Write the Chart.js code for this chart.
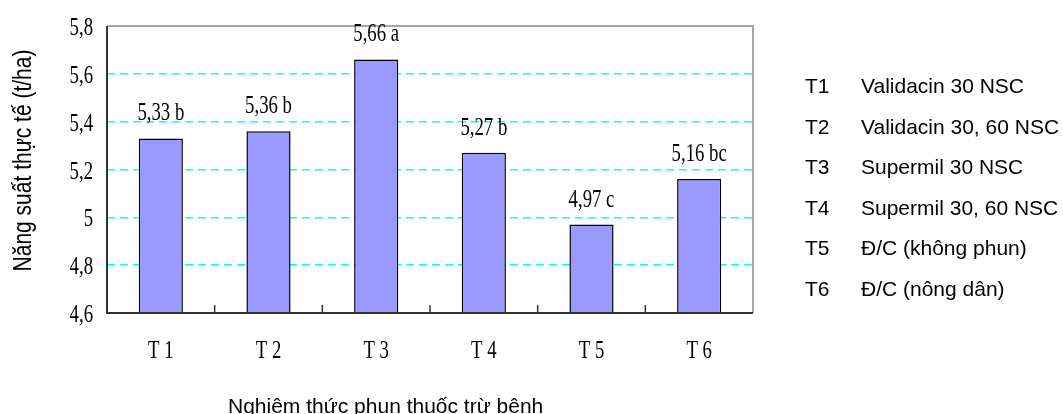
<!DOCTYPE html>
<html>
<head>
<meta charset="utf-8">
<script src="https://cdn.jsdelivr.net/npm/chart.js@4/dist/chart.umd.min.js"></script>
<style>
html,body{margin:0;padding:0;background:#fff;}
#wrap{width:1063px;height:414px;position:relative;}
</style>
</head>
<body>
<div id="wrap"><canvas id="c" width="1063" height="414"></canvas></div>
<script>
const categories = ["T 1", "T 2", "T 3", "T 4", "T 5", "T 6"];
const yields = [5.33, 5.36, 5.66, 5.27, 4.97, 5.16];
const barLabels = ["5,33 b", "5,36 b", "5,66 a", "5,27 b", "4,97 c", "5,16 bc"];
const yTicks = [4.6, 4.8, 5.0, 5.2, 5.4, 5.6, 5.8];
const yTickLabels = ["4,6", "4,8", "5", "5,2", "5,4", "5,6", "5,8"];
const legendCodes = ["T1", "T2", "T3", "T4", "T5", "T6"];
const legendNames = ["Validacin 30 NSC", "Validacin 30, 60 NSC", "Supermil 30 NSC", "Supermil 30, 60 NSC", "Đ/C (không phun)", "Đ/C (nông dân)"];
const yTitle = "Năng suất thực tế (t/ha)";
const xTitle = "Nghiệm thức phun thuốc trừ bênh";

const SERIF = "'Liberation Serif', 'Times New Roman', serif";
const SANS = "'Liberation Sans', Arial, sans-serif";

// narrow serif text (condensed look of the original)
function serifText(ctx, txt, x, y, align) {
  ctx.save();
  ctx.translate(x, y);
  ctx.scale(0.75, 1);
  ctx.font = '25px ' + SERIF;
  ctx.textAlign = align;
  ctx.textBaseline = 'alphabetic';
  ctx.fillText(txt, 0, 0);
  ctx.restore();
}

const extras = {
  id: 'extras',
  beforeDatasetsDraw(chart) {
    const {ctx, chartArea: a} = chart;
    ctx.save();
    ctx.strokeStyle = '#8c8c8c';
    ctx.lineWidth = 1.5;
    ctx.beginPath();
    ctx.moveTo(a.left, a.top); ctx.lineTo(a.right, a.top); ctx.lineTo(a.right, a.bottom);
    ctx.stroke();
    ctx.restore();
  },
  afterDatasetsDraw(chart) {
    const {ctx, chartArea: a, scales} = chart;
    const x = scales.x, y = scales.y;
    ctx.save();
    // axes
    ctx.strokeStyle = '#333';
    ctx.lineWidth = 2;
    ctx.beginPath();
    ctx.moveTo(a.left, a.top); ctx.lineTo(a.left, a.bottom); ctx.lineTo(a.right, a.bottom);
    ctx.stroke();
    // inward category ticks
    ctx.lineWidth = 1.5;
    const n = categories.length;
    for (let i = 1; i < n; i++) {
      const px = (x.getPixelForValue(i - 1) + x.getPixelForValue(i)) / 2;
      ctx.beginPath(); ctx.moveTo(px, a.bottom); ctx.lineTo(px, a.bottom - 8); ctx.stroke();
    }
    ctx.fillStyle = '#000';
    // y tick labels
    yTicks.forEach((v, i) => {
      serifText(ctx, yTickLabels[i], a.left - 14, y.getPixelForValue(v) + 9, 'right');
    });
    // x tick labels
    categories.forEach((c, i) => {
      serifText(ctx, c, x.getPixelForValue(i), a.bottom + 45, 'center');
    });
    // bar labels
    const meta = chart.getDatasetMeta(0);
    meta.data.forEach((bar, i) => {
      serifText(ctx, barLabels[i], bar.x, bar.y - 18, 'center');
    });
    // x title
    ctx.font = '21px ' + SANS;
    ctx.textAlign = 'left';
    ctx.textBaseline = 'alphabetic';
    ctx.fillText(xTitle, 228, 413);
    // y title
    ctx.save();
    ctx.translate(31, (a.top + a.bottom) / 2 - 9);
    ctx.rotate(-Math.PI / 2);
    ctx.scale(1, 1.2);
    ctx.font = '21px ' + SANS;
    ctx.textAlign = 'center';
    ctx.fillText(yTitle, 0, 0);
    ctx.restore();
    // legend
    ctx.font = '21px ' + SANS;
    ctx.textAlign = 'left';
    legendCodes.forEach((c, i) => {
      const yy = 93 + i * 40.5;
      ctx.fillText(c, 805, yy);
      ctx.fillText(legendNames[i], 861, yy);
    });
    ctx.restore();
  }
};

new Chart(document.getElementById('c'), {
  type: 'bar',
  data: {
    labels: categories,
    datasets: [{
      data: yields,
      backgroundColor: '#9999ff',
      borderColor: '#000',
      borderWidth: 1.5,
      categoryPercentage: 1,
      barPercentage: 0.41
    }]
  },
  options: {
    responsive: false,
    animation: false,
    layout: { padding: { left: 0, top: 26, right: 310, bottom: 0 } },
    plugins: { legend: { display: false }, tooltip: { enabled: false } },
    scales: {
      x: {
        grid: { display: false, drawTicks: false },
        border: { display: false },
        ticks: { display: false },
        afterFit(s) { s.height = 101; }
      },
      y: {
        min: 4.6, max: 5.8,
        afterBuildTicks(s) { s.ticks = yTicks.map(v => ({ value: v })); },
        ticks: { display: false },
        grid: {
          drawTicks: false,
          color(c) { const v = c.tick && c.tick.value; return (Math.abs(v - 4.6) < 1e-9 || Math.abs(v - 5.8) < 1e-9) ? 'rgba(0,0,0,0)' : '#00ffff'; },
          lineWidth: 1.5
        },
        border: { display: false, dash: [8, 5] },
        afterFit(s) { s.width = 107; }
      }
    }
  },
  plugins: [extras]
});
</script>
</body>
</html>
